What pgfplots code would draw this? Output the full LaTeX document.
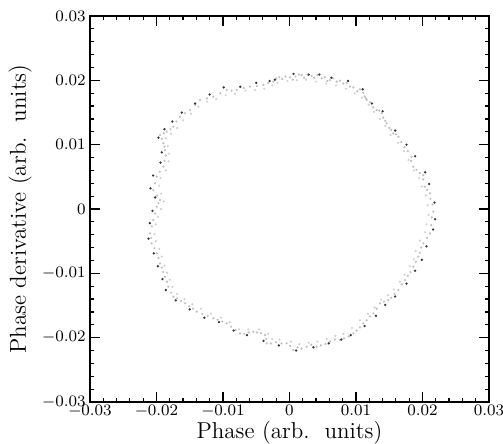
\documentclass[border=0pt]{standalone}
\usepackage{pgfplots}
\pgfplotsset{compat=1.18}
\begin{document}
\begin{tikzpicture}
\path[use as bounding box] (-45pt,-21pt) rectangle (206.5pt,201pt);
\begin{axis}[
  at={(0,0)}, anchor=south west,
  scale only axis, width=199.5pt, height=193pt,
  xmin=-0.03, xmax=0.03, ymin=-0.03, ymax=0.03,
  scaled ticks=false,
  xtick={-0.03,-0.02,-0.01,0,0.01,0.02,0.03},
  ytick={-0.03,-0.02,-0.01,0,0.01,0.02,0.03},
  xticklabels={$-0.03$,$-0.02$,$-0.01$,$0$,$0.01$,$0.02$,$0.03$},
  yticklabels={$-0.03$,$-0.02$,$-0.01$,$0$,$0.01$,$0.02$,$0.03$},
  minor tick num=4,
  tick align=inside,
  major tick length=5pt, minor tick length=2.2pt,
  axis line style={line width=0.8pt},
  every tick/.style={black, line width=0.6pt},
  tick label style={font=\fontsize{8.5}{9}\selectfont},
  xticklabel style={inner sep=1.5pt},
  yticklabel style={inner sep=2pt},
  xlabel={Phase (arb.\ \ units)},
  ylabel={Phase derivative (arb.\ \ units)},
  label style={font=\fontsize{11.5}{13}\selectfont, inner sep=0pt},
  xlabel style={at={(axis description cs:0.5,-0.05)}, anchor=north},
  ylabel style={at={(axis description cs:-0.145,0.5)}, anchor=south},
]
\addplot[only marks, color=gray!50, mark=*, mark size=0.32pt, mark options={draw=gray!50, fill=gray!50}] coordinates {
(-0.00243,0.01979) (-0.00200,0.02030) (-0.00153,0.02047) (-0.00110,0.02020) (-0.00060,0.02060) (0.00008,0.02047) (0.00050,0.02010) (0.00090,0.02060) (0.00140,0.02090) (0.00183,0.02083) (0.00220,0.02040) (0.00270,0.02090) (0.00333,0.02067) (0.00370,0.02040) (0.00420,0.02080) (0.00484,0.02031) (0.00530,0.02050) (0.00570,0.01990) (0.00609,0.02005) (0.00660,0.02030) (0.00710,0.01980) (0.00759,0.01995) (0.00810,0.01950) (0.00860,0.01960) (0.00910,0.01902)
(0.00960,0.01890) (0.01020,0.01830) (0.01060,0.01860) (0.01110,0.01808) (0.01130,0.01750) (0.01150,0.01720) (0.01160,0.01694) (0.01210,0.01660) (0.01260,0.01580) (0.01311,0.01539) (0.01350,0.01530) (0.01386,0.01487) (0.01410,0.01420) (0.01440,0.01370) (0.01461,0.01332) (0.01500,0.01260) (0.01530,0.01230) (0.01561,0.01176) (0.01600,0.01160) (0.01637,0.01124) (0.01680,0.01040) (0.01730,0.00960) (0.01780,0.00900) (0.01837,0.00813) (0.01830,0.00750) (0.01862,0.00658) (0.01910,0.00610) (0.01960,0.00560) (0.02013,0.00528) (0.02010,0.00460) (0.02038,0.00347) (0.02070,0.00300) (0.02113,0.00244) (0.02120,0.00160) (0.02150,0.00070) (0.02163,-0.00041) (0.02140,-0.00130) (0.02130,-0.00250) (0.02113,-0.00378) (0.02070,-0.00450) (0.02013,-0.00534) (0.01980,-0.00600) (0.01960,-0.00680) (0.01937,-0.00741) (0.01900,-0.00820) (0.01862,-0.00896) (0.01820,-0.00980) (0.01780,-0.01040) (0.01737,-0.01104) (0.01690,-0.01170) (0.01637,-0.01259) (0.01580,-0.01320) (0.01530,-0.01380) (0.01486,-0.01415) (0.01420,-0.01440) (0.01361,-0.01466) (0.01310,-0.01550) (0.01261,-0.01622) (0.01210,-0.01670) (0.01160,-0.01730) (0.01110,-0.01777) (0.01060,-0.01840) (0.01010,-0.01890) (0.00960,-0.01933) (0.00890,-0.01980) (0.00820,-0.02010) (0.00759,-0.02036) (0.00680,-0.02030) (0.00609,-0.02062) (0.00540,-0.02100) (0.00470,-0.02120) (0.00409,-0.02140) (0.00330,-0.02110) (0.00258,-0.02140) (0.00180,-0.02170) (0.00120,-0.02150) (0.00058,-0.02192) (0.00010,-0.02130) (-0.00043,-0.02088) (-0.00120,-0.02090) (-0.00200,-0.02070) (-0.00280,-0.02090) (-0.00343,-0.02088) (-0.00350,-0.02020) (-0.00368,-0.01959) (-0.00430,-0.01930) (-0.00490,-0.01920) (-0.00544,-0.01907) (-0.00610,-0.01920) (-0.00680,-0.01940) (-0.00744,-0.01933) (-0.00810,-0.01880) (-0.00880,-0.01830) (-0.00945,-0.01777) (-0.01010,-0.01750) (-0.01080,-0.01720) (-0.01145,-0.01699) (-0.01230,-0.01660) (-0.01310,-0.01630) (-0.01396,-0.01596) (-0.01450,-0.01550) (-0.01510,-0.01510) (-0.01571,-0.01466) (-0.01630,-0.01430) (-0.01690,-0.01390) (-0.01747,-0.01363) (-0.01780,-0.01300) (-0.01822,-0.01207) (-0.01840,-0.01130) (-0.01872,-0.01052) (-0.01900,-0.00980) (-0.01920,-0.00910) (-0.01947,-0.00845) (-0.01970,-0.00760) (-0.01997,-0.00689) (-0.02030,-0.00610) (-0.02073,-0.00534) (-0.02080,-0.00450) (-0.02098,-0.00378) (-0.02070,-0.00270) (-0.02048,-0.00171) (-0.02020,-0.00070) (-0.01997,0.00036) (-0.01970,0.00090) (-0.01947,0.00140) (-0.01990,0.00210) (-0.02048,0.00295) (-0.02020,0.00400) (-0.01997,0.00503) (-0.01950,0.00580) (-0.01897,0.00658) (-0.01880,0.00750) (-0.01860,0.00830) (-0.01872,0.00917) (-0.01880,0.00970) (-0.01897,0.01021) (-0.01920,0.01090) (-0.01947,0.01150) (-0.01890,0.01180) (-0.01847,0.01202) (-0.01790,0.01240) (-0.01747,0.01280) (-0.01700,0.01360) (-0.01647,0.01435) (-0.01570,0.01490) (-0.01496,0.01539) (-0.01420,0.01620) (-0.01346,0.01694) (-0.01240,0.01720) (-0.01145,0.01746) (-0.01040,0.01800) (-0.00945,0.01850) (-0.00870,0.01840) (-0.00794,0.01850) (-0.00690,0.01880) (-0.00594,0.01902) (-0.00490,0.01910) (-0.00393,0.01927) (-0.00320,0.01960)
};
\addplot[only marks, color=gray!35, mark=*, mark size=0.32pt, mark options={draw=gray!35, fill=gray!35}] coordinates {
(-0.00180,0.01960) (-0.00030,0.01990) (0.00110,0.02000) (0.00250,0.02010) (0.00400,0.01980) (0.00550,0.01950) (0.00700,0.01920) (0.00850,0.01870) (0.00980,0.01800) (0.01090,0.01730) (0.01190,0.01620) (0.01270,0.01510) (0.01360,0.01400) (0.01440,0.01290) (0.01520,0.01150) (0.01630,0.01030) (0.01720,0.00900) (0.01790,0.00760) (0.01870,0.00600) (0.01950,0.00480) (0.01990,0.00350) (0.02050,0.00210) (0.02080,0.00060) (0.02090,-0.00090) (0.02060,-0.00240) (0.02040,-0.00360) (0.01960,-0.00490) (0.01900,-0.00650) (0.01870,-0.00780) (0.01810,-0.00890) (0.01730,-0.01020) (0.01660,-0.01130) (0.01570,-0.01250) (0.01480,-0.01340) (0.01380,-0.01410) (0.01280,-0.01530) (0.01180,-0.01630) (0.01060,-0.01730) (0.00940,-0.01850) (0.00810,-0.01940) (0.00690,-0.01970) (0.00560,-0.02020) (0.00420,-0.02060) (0.00290,-0.02080) (0.00150,-0.02100) (0.00020,-0.02060) (-0.00150,-0.02030) (-0.00260,-0.02020) (-0.00320,-0.01940) (-0.00460,-0.01870) (-0.00620,-0.01870) (-0.00760,-0.01870) (-0.00900,-0.01760) (-0.01030,-0.01690) (-0.01180,-0.01630) (-0.01330,-0.01550) (-0.01460,-0.01480) (-0.01580,-0.01400) (-0.01690,-0.01320) (-0.01760,-0.01210) (-0.01800,-0.01100) (-0.01840,-0.00990) (-0.01880,-0.00880) (-0.01920,-0.00740) (-0.01960,-0.00620) (-0.02010,-0.00500) (-0.02030,-0.00390) (-0.02010,-0.00240) (-0.01980,-0.00120) (-0.01930,0.00000) (-0.01890,0.00120) (-0.01930,0.00240) (-0.01960,0.00360) (-0.01940,0.00480) (-0.01860,0.00600) (-0.01820,0.00740) (-0.01810,0.00860) (-0.01830,0.00980) (-0.01860,0.01100) (-0.01780,0.01170) (-0.01690,0.01260) (-0.01600,0.01380) (-0.01480,0.01480) (-0.01370,0.01590) (-0.01240,0.01670) (-0.01100,0.01710) (-0.00960,0.01770) (-0.00820,0.01790) (-0.00660,0.01840) (-0.00520,0.01850) (-0.00380,0.01870) (-0.00260,0.01920)
};
\addplot[only marks, color=black!80, mark=*, mark size=0.35pt, mark options={draw=black!80, fill=black!80}] coordinates {
(-0.00220,0.02010) (0.00060,0.02100) (0.00290,0.02090) (0.00450,0.02090) (0.00630,0.02040) (0.00880,0.01990) (0.01100,0.01860) (0.01240,0.01640) (0.01400,0.01520) (0.01590,0.01220) (0.01760,0.01000) (0.01890,0.00820) (0.02040,0.00570) (0.02100,0.00390) (0.02180,0.00100) (0.02190,-0.00160) (0.02160,-0.00320) (0.02060,-0.00580) (0.01990,-0.00790) (0.01890,-0.00960) (0.01760,-0.01160) (0.01590,-0.01360) (0.01440,-0.01490) (0.01300,-0.01660) (0.01130,-0.01820) (0.00920,-0.01960) (0.00780,-0.02030) (0.00590,-0.02090) (0.00360,-0.02150) (0.00100,-0.02200) (-0.00160,-0.02120) (-0.00390,-0.02050) (-0.00640,-0.01960) (-0.00840,-0.01890) (-0.01060,-0.01760) (-0.01280,-0.01690) (-0.01500,-0.01560) (-0.01710,-0.01420) (-0.01860,-0.01260) (-0.01910,-0.01090) (-0.01980,-0.00890) (-0.02040,-0.00690) (-0.02120,-0.00460) (-0.02100,-0.00220) (-0.02060,-0.00030) (-0.02020,0.00180) (-0.02090,0.00320) (-0.02050,0.00520) (-0.01940,0.00720) (-0.01920,0.00880) (-0.01970,0.01110) (-0.01880,0.01240) (-0.01760,0.01360) (-0.01620,0.01500) (-0.01420,0.01640) (-0.01200,0.01780) (-0.00990,0.01890) (-0.00740,0.01900) (-0.00500,0.01960) (-0.00300,0.01990)
};
\end{axis}
\end{tikzpicture}
\end{document}
